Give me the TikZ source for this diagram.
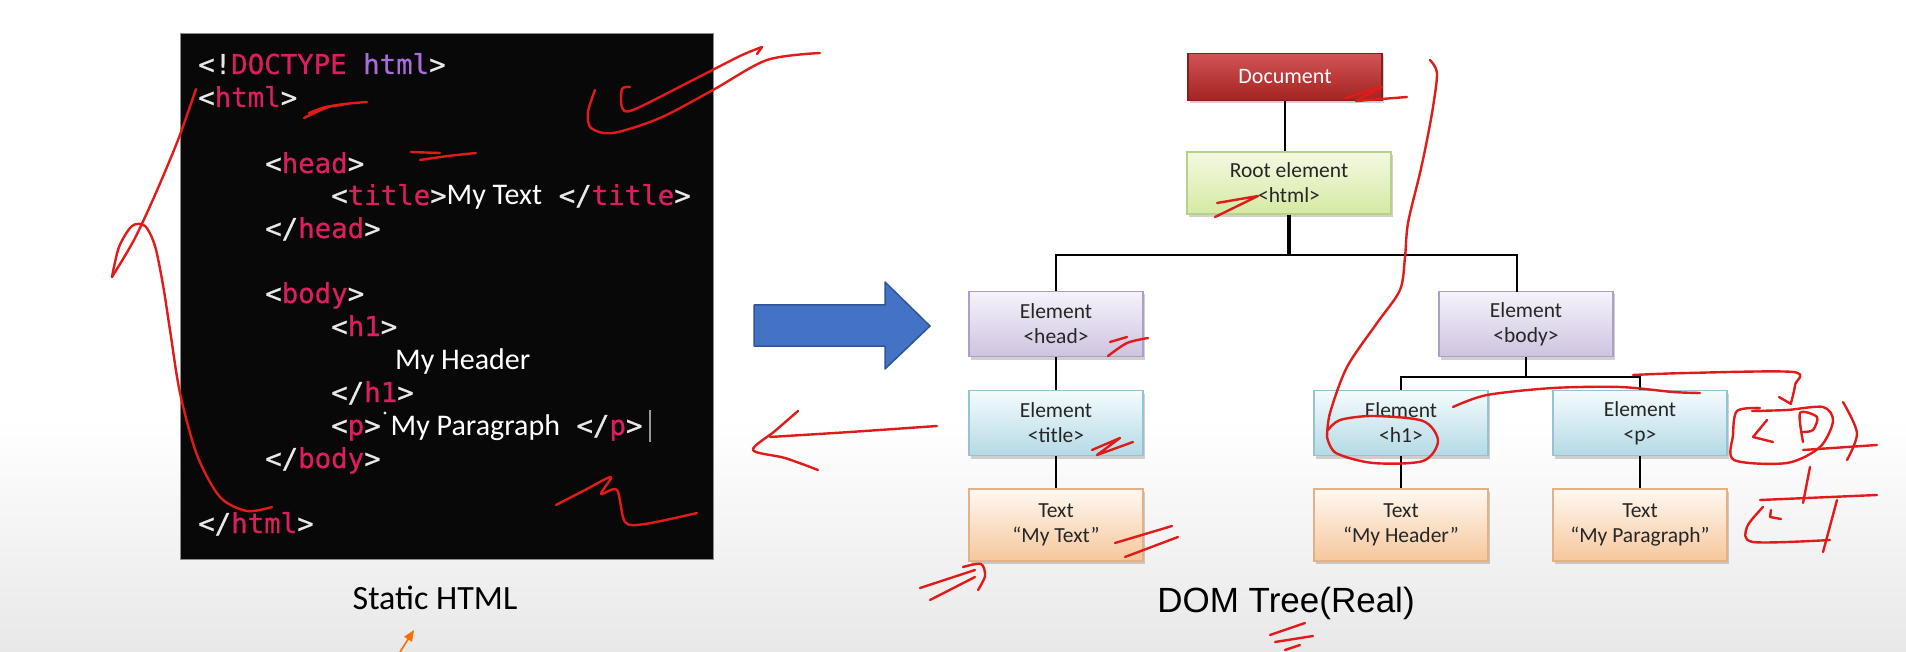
\documentclass[tikz,border=0pt]{standalone}
\usepackage{fontspec}
\newfontfamily\carlito{Carlito}
\newfontfamily\codefont[FakeBold=0.6]{DejaVu Sans Mono}
\newfontfamily\arialfont{Liberation Sans}
\usetikzlibrary{shadows,arrows.meta}

\definecolor{tagpink}{HTML}{DC1F5C}
\definecolor{tagpurple}{HTML}{A86CDB}
\definecolor{punct}{HTML}{E8E8E8}
\definecolor{pen}{HTML}{E11A1A}
\definecolor{codebg}{HTML}{080808}
\definecolor{arrowblue}{HTML}{4472C4}
\definecolor{arrowedge}{HTML}{2F5597}
\definecolor{docTop}{HTML}{D35454}
\definecolor{docBot}{HTML}{A32222}
\definecolor{docEdge}{HTML}{8E1C1C}
\definecolor{rootTop}{HTML}{F4F9E2}
\definecolor{rootBot}{HTML}{D4EAA2}
\definecolor{rootEdge}{HTML}{B9D08C}
\definecolor{purTop}{HTML}{F6F3FA}
\definecolor{purBot}{HTML}{CEC3DF}
\definecolor{purEdge}{HTML}{ACA0C6}
\definecolor{bluTop}{HTML}{F5FBFD}
\definecolor{bluBot}{HTML}{B3DAE5}
\definecolor{bluEdge}{HTML}{96C3D1}
\definecolor{orTop}{HTML}{FFF8F1}
\definecolor{orBot}{HTML}{F6C79B}
\definecolor{orEdge}{HTML}{E2B286}

% code-listing colouring helpers
\newcommand\ctag[1]{\textcolor{tagpink}{#1}}
\newcommand\cpun[1]{\textcolor{punct}{#1}}
\newcommand\cwords[1]{{\carlito\mdseries\fontsize{30}{36}\selectfont\textcolor{white}{#1}}}

\tikzset{
  codeline/.style={anchor=base west, inner sep=0pt,
    font=\codefont\fontsize{27.4}{32}\selectfont, text=punct},
  treebox/.style={draw, line width=1.2pt, minimum width=174pt, minimum height=65pt,
    inner sep=0pt, align=center, text=black!85,
    font=\carlito\fontsize{21.5}{25}\selectfont,
    drop shadow={shadow xshift=2pt, shadow yshift=-3pt, opacity=0.3, fill=black!60}},
  docbox/.style={treebox, draw=docEdge, top color=docTop, bottom color=docBot, text=white,
    minimum width=194pt, minimum height=47pt, font=\carlito\fontsize{22}{26}\selectfont},
  rootbox/.style={treebox, draw=rootEdge, top color=rootTop, bottom color=rootBot,
    minimum width=204pt, minimum height=62pt},
  purplebox/.style={treebox, draw=purEdge, top color=purTop, bottom color=purBot},
  bluebox/.style={treebox, draw=bluEdge, top color=bluTop, bottom color=bluBot},
  orangebox/.style={treebox, draw=orEdge, top color=orTop, bottom color=orBot, minimum height=72pt},
  conn/.style={draw=black, line width=2.6pt},
  ink/.style={draw=pen, line width=2.4pt, line cap=round, line join=round},
}

\begin{document}
\begin{tikzpicture}[x=1pt, y=-1pt]
\useasboundingbox (0,0) rectangle (1906,652);
\fill[white] (0,0) rectangle (1906,652);
\shade[top color=white, bottom color=black!9] (0,420) rectangle (1906,652);

% ---------- static HTML listing ----------
\fill[codebg] (180,33) rectangle (713,559);
\draw[black!45, line width=0.8pt] (180,33) rectangle (713,559);

\node[codeline] (c0)  at (198,74)  {\cpun{<!}\ctag{DOCTYPE} \textcolor{tagpurple}{html}\cpun{>}};
\node[codeline] (c1)  at (198,107) {\cpun{<}\ctag{html}\cpun{>}};
\node[codeline] (c3)  at (265,173) {\cpun{<}\ctag{head}\cpun{>}};
\node[codeline] (c4)  at (331,205) {\cpun{<}\ctag{title}\cpun{>}\cwords{My Text}\ \cpun{</}\ctag{title}\cpun{>}};
\node[codeline] (c5)  at (265,238) {\cpun{</}\ctag{head}\cpun{>}};
\node[codeline] (c7)  at (265,303) {\cpun{<}\ctag{body}\cpun{>}};
\node[codeline] (c8)  at (331,336) {\cpun{<}\ctag{h1}\cpun{>}};
\node[codeline] (c9)  at (395,369) {\cwords{My Header}};
\node[codeline] (c10) at (331,402) {\cpun{</}\ctag{h1}\cpun{>}};
\node[codeline] (c11) at (331,435) {\cpun{<}\ctag{p}\cpun{>}\hspace{10pt}\cwords{My Paragraph}\ \cpun{</}\ctag{p}\cpun{>}};
\node[codeline] (c12) at (265,468) {\cpun{</}\ctag{body}\cpun{>}};
\node[codeline] (c14) at (198,533) {\cpun{</}\ctag{html}\cpun{>}};
% stray tick after <p> and the text cursor
\fill[punct] (385,413) circle (1.6);
\draw[black!40, line width=1.6pt] (650,410) -- (650,442);

\node[font=\carlito\fontsize{34}{40}\selectfont] (lblstatic) at (435,598) {Static HTML};

% ---------- conversion arrow ----------
\filldraw[fill=arrowblue, draw=arrowedge, line width=1.5pt, line join=round]
  (754,305) -- (885,305) -- (885,282) -- (930,326) -- (885,369) -- (885,346) -- (754,346) -- cycle;

% ---------- DOM tree ----------
\node[docbox]    (doc)   at (1285,77)  {Document};
\node[rootbox]   (root)  at (1289,183) {Root element\\<html>};
\node[purplebox] (head)  at (1056,324) {Element\\<head>};
\node[purplebox] (body)  at (1526,324) {Element\\<body>};
\node[bluebox]   (title) at (1056,423) {Element\\<title>};
\node[bluebox]   (h1)    at (1401,423) {Element\\<h1>};
\node[bluebox]   (p)     at (1640,423) {Element\\<p>};
\node[orangebox] (t1)    at (1056,525) {Text\\“My Text”};
\node[orangebox] (t2)    at (1401,525) {Text\\“My Header”};
\node[orangebox] (t3)    at (1640,525) {Text\\“My Paragraph”};

\coordinate (split) at (1289,255);
\coordinate (split2) at (1526,377);
\coordinate (bodyin) at (1517,292);

\draw[conn] (doc.south) -- (doc.south |- root.north);
\draw[conn, line width=3.2pt] (root.south) -- (split);
\draw[conn] (head.north) -- (head.north |- split) -- (bodyin |- split) -- (bodyin);
\draw[conn] (body.south) -- (split2);
\draw[conn] (h1.north) -- (h1.north |- split2) -- (p.north |- split2) -- (p.north);
\draw[conn] (head.south) -- (title.north);
\draw[conn] (title.south) -- (t1.north);
\draw[conn] (h1.south) -- (t2.north);
\draw[conn] (p.south) -- (t3.north);

\node[font=\arialfont\fontsize{35}{42}\selectfont] (lbldom) at (1286,603) {DOM Tree(Real)};

% small orange pointer under the left caption
\draw[draw=orange!85!red, line width=1.6pt, -{Triangle[length=11pt,width=9pt]}] (400,652) -- (414,630);

% ---------- pen annotations ----------
% bracket around the listing
\draw[ink] plot[smooth] coordinates {(196,89) (178,140) (155,195) (134,240) (112,277)};
\draw[ink] plot[smooth] coordinates {(112,277) (119,247) (132,226) (145,226) (155,246) (163,285) (170,330) (180,393) (197,455) (220,497) (247,511) (272,507)};
% ticks over the listing
\draw[ink] plot[smooth] coordinates {(304,118) (332,106) (367,102)};
\draw[ink] plot[smooth] coordinates {(309,113) (326,107) (343,105)};
\draw[ink] (411,152) -- (440,153);
\draw[ink] plot[smooth] coordinates {(420,160) (448,156) (476,153)};
\draw[ink] plot[smooth] coordinates {(595,90) (588,112) (591,128) (613,133) (660,118) (713,90) (767,60) (820,53)};
\draw[ink] plot[smooth] coordinates {(630,87) (622,89) (622,107) (633,110) (693,80) (740,56) (762,47)};
\draw[ink] (757,54) -- (762,47);
\draw[ink] plot[smooth] coordinates {(556,505) (585,490) (611,477) (601,494) (617,490) (625,522) (645,524) (697,513)};
% arrow back to the listing
\draw[ink] plot[smooth] coordinates {(937,426) (850,432) (770,437)};
\draw[ink] plot[smooth] coordinates {(798,411) (775,431) (753,450) (785,458) (818,470)};
% tree marks
\draw[ink] plot coordinates {(1345,98) (1382,87) (1356,101) (1407,97)};
\draw[ink] plot coordinates {(1217,203) (1258,196) (1215,217)};
\draw[ink] (1110,342) -- (1127,337);
\draw[ink] plot[smooth] coordinates {(1108,356) (1127,343) (1148,338)};
\draw[ink] plot coordinates {(1092,450) (1120,438) (1097,455) (1133,442)};
\draw[ink] (1115,543) -- (1172,526);
\draw[ink] (1125,557) -- (1178,537);
\draw[ink] (920,588) -- (975,570);
\draw[ink] plot[smooth] coordinates {(963,567) (981,564) (985,576) (978,590)};
\draw[ink] (930,600) -- (975,577);
\draw[ink] plot[smooth] coordinates {(1430,60) (1437,73) (1433,107) (1427,140) (1420,173) (1408,223) (1405,257) (1400,290) (1377,323) (1347,367) (1330,413) (1327,437)};
\draw[ink] plot[smooth] coordinates {(1327,437) (1336,453) (1373,463) (1423,461) (1438,441) (1423,421) (1373,416) (1340,420) (1328,430)};
\draw[ink] plot[smooth] coordinates {(1453,407) (1487,395) (1553,388) (1620,387) (1673,392) (1700,393)};
\draw[ink] plot[smooth] coordinates {(1633,375) (1687,373) (1793,372) (1795,385) (1791,403)};
\draw[ink] (1779,397) -- (1791,404);
\draw[ink] plot[smooth] coordinates {(1760,408) (1737,411) (1733,435) (1734,460) (1787,463) (1820,447) (1833,421) (1823,407) (1787,410) (1752,411)};
\draw[ink] plot coordinates {(1767,420) (1753,437) (1773,442)};
\draw[ink] plot[smooth] coordinates {(1803,442) (1800,413) (1817,417) (1813,430) (1803,432)};
\draw[ink] plot[smooth] coordinates {(1843,402) (1857,433) (1847,460)};
\draw[ink] (1803,450) -- (1877,445);
\draw[ink] (1810,467) -- (1803,503);
\draw[ink] (1760,500) -- (1877,495);
\draw[ink] plot coordinates {(1771,510) (1770,517) (1781,519)};
\draw[ink] plot[smooth] coordinates {(1763,507) (1747,527) (1753,542) (1830,540)};
\draw[ink] (1837,500) -- (1823,552);
\draw[ink] (1270,635) -- (1305,623);
\draw[ink] (1275,642) -- (1313,636);
\draw[ink] (1285,650) -- (1300,645);
\end{tikzpicture}
\end{document}
